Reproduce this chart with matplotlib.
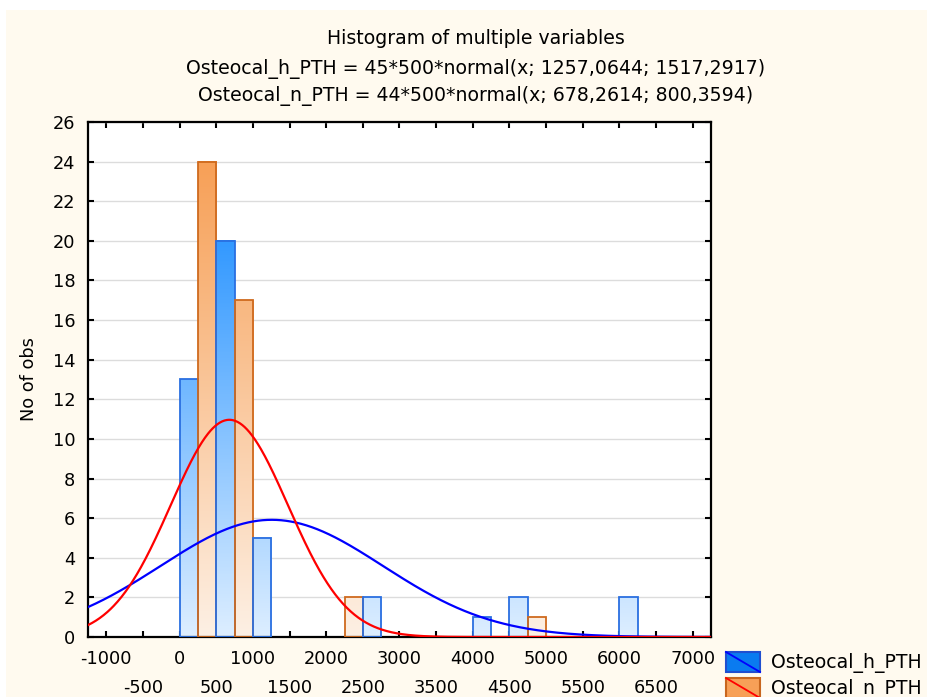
import numpy as np
import matplotlib
matplotlib.use("Agg")
import matplotlib.pyplot as plt
from matplotlib.colors import LinearSegmentedColormap, Normalize
from matplotlib.patches import Rectangle
from matplotlib.lines import Line2D
from matplotlib.ticker import FixedLocator, FixedFormatter

plt.rcParams['font.family'] = ['DejaVu Sans']

# ---- data ----
bin_starts = [-1000, -500, 0, 500, 1000, 1500, 2000, 2500, 3000, 3500,
              4000, 4500, 5000, 5500, 6000, 6500, 7000]
counts_h = [0, 0, 13, 20, 5, 0, 0, 2, 0, 0, 1, 2, 0, 0, 2, 0, 0]
counts_n = [0, 0, 24, 17, 0, 0, 2, 0, 0, 0, 0, 1, 0, 0, 0, 0, 0]
bin_width = 500
n_h, mean_h, sd_h = 45, 1257.0644, 1517.2917
n_n, mean_n, sd_n = 44, 678.2614, 800.3594
series_names = ["Osteocal_h_PTH", "Osteocal_n_PTH"]
title_lines = ["Histogram of multiple variables",
               "Osteocal_h_PTH = 45*500*normal(x; 1257,0644; 1517,2917)",
               "Osteocal_n_PTH = 44*500*normal(x; 678,2614; 800,3594)"]
major_ticks = [-1000, 0, 1000, 2000, 3000, 4000, 5000, 6000, 7000]
minor_ticks = [-500, 500, 1500, 2500, 3500, 4500, 5500, 6500]
yticks = list(range(0, 27, 2))

W, H = 928, 697
FS = 12.8
FT = 13.6
fig = plt.figure(figsize=(W / 100, H / 100), dpi=100, facecolor='white')
# cream background panel
fig.patches.append(Rectangle((6 / W, 0), 1, 1 - 10 / H, transform=fig.transFigure,
                             facecolor='#FFFAEF', edgecolor='none', zorder=-10))

ax = fig.add_axes([88 / W, 1 - 637 / H, (711 - 88) / W, (637 - 122) / H])
ax.set_facecolor('white')

xmin, xmax = -1250, 7250
ymin, ymax = 0, 26

cmap_h = LinearSegmentedColormap.from_list('h', ['#DDEEFF', '#3399FF'])
cmap_n = LinearSegmentedColormap.from_list('n', ['#FDF0E4', '#F7A057'])
norm_h = Normalize(0, max(counts_h))
norm_n = Normalize(0, max(counts_n))

half = bin_width / 2
for xs, ch, cn in zip(bin_starts, counts_h, counts_n):
    for x0, c, cmap, norm, ec in ((xs, ch, cmap_h, norm_h, '#2A6FE0'),
                                  (xs + half, cn, cmap_n, norm_n, '#CF6A1E')):
        if c > 0:
            grad = np.linspace(0, c, 200).reshape(-1, 1)
            ax.imshow(grad, extent=[x0, x0 + half, 0, c], origin='lower',
                      cmap=cmap, norm=norm, aspect='auto', zorder=2,
                      interpolation='bilinear')
            ax.add_patch(Rectangle((x0, 0), half, c, fill=False,
                                   edgecolor=ec, linewidth=1.3, zorder=3))

xx = np.linspace(xmin, xmax, 800)
def normal_curve(x, n, m, s):
    return n * bin_width * np.exp(-0.5 * ((x - m) / s) ** 2) / (s * np.sqrt(2 * np.pi))

ax.plot(xx, normal_curve(xx, n_h, mean_h, sd_h), color='#0000FF', lw=1.6, zorder=4)
ax.plot(xx, normal_curve(xx, n_n, mean_n, sd_n), color='#FF0000', lw=1.6, zorder=4)

ax.set_xlim(xmin, xmax)
ax.set_ylim(ymin, ymax)

ax.set_yticks(yticks)
ax.set_yticklabels([str(v) for v in yticks])
ax.yaxis.grid(True, color='#DCDCDC', lw=1.0)
ax.set_axisbelow(True)

ax.xaxis.set_major_locator(FixedLocator(major_ticks))
ax.xaxis.set_major_formatter(FixedFormatter([str(v) for v in major_ticks]))
ax.xaxis.set_minor_locator(FixedLocator(minor_ticks))
ax.xaxis.set_minor_formatter(FixedFormatter([str(v) for v in minor_ticks]))

ax.tick_params(which='both', direction='in', top=True, right=True,
               length=4, width=1.5, labelsize=FS, colors='black')
ax.tick_params(axis='x', which='major', pad=9)
ax.tick_params(axis='x', which='minor', pad=30)
ax.tick_params(axis='y', pad=9)
for sp in ax.spines.values():
    sp.set_linewidth(1.6)
    sp.set_color('black')

ax.set_ylabel("No of obs", fontsize=FS, labelpad=11)

# titles
fig.text(476 / W, 1 - 38 / H, title_lines[0], ha='center', va='center', fontsize=FT)
fig.text(476 / W, 1 - 69 / H, title_lines[1], ha='center', va='center', fontsize=FT)
fig.text(476 / W, 1 - 96 / H, title_lines[2], ha='center', va='center', fontsize=FT)

# legend (outside, bottom right, partially cut)
leg_items = [(652, '#0A7BF0', '#1F4FD0', '#0000FF', series_names[0]),
             (678, '#F7A057', '#C8661E', '#FF0000', series_names[1])]
for ytop, fc, ec, lc, name in leg_items:
    x0, x1 = 726 / W, 760 / W
    y0, y1 = 1 - (ytop + 20) / H, 1 - ytop / H
    fig.patches.append(Rectangle((x0, y0), x1 - x0, y1 - y0, transform=fig.transFigure,
                                 facecolor=fc, edgecolor=ec, linewidth=1.5, zorder=5))
    fig.lines.append(Line2D([x0, x1], [y1, y0], transform=fig.transFigure,
                            color=lc, lw=1.3, zorder=6))
    fig.text(771 / W, 1 - (ytop + 11) / H, name, ha='left', va='center', fontsize=FT)

fig.savefig("out.png", dpi=100, facecolor=fig.get_facecolor())
